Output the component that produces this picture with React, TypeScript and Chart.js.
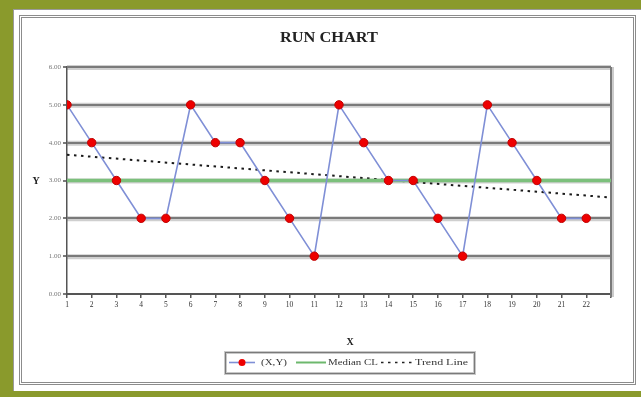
import React, { useEffect, useRef } from "react";
import { Chart, registerables } from "chart.js";
Chart.register(...registerables);

const xCategories = [1, 2, 3, 4, 5, 6, 7, 8, 9, 10, 11, 12, 13, 14, 15, 16, 17, 18, 19, 20, 21, 22];
const yValues = [5, 4, 3, 2, 2, 5, 4, 4, 3, 2, 1, 5, 4, 3, 3, 2, 1, 5, 4, 3, 2, 2];
const medianValue = 3;
const trendX = [1, 23];
const trendY = [3.68, 2.55];
const xAxisMin = 1;
const xAxisMax = 23;
const yAxisMin = 0;
const yAxisMax = 6;
const legendLabels = ["(X,Y)", "Median CL", "Trend Line"];
const titleText = "RUN CHART";
const xTitle = "X";
const yTitle = "Y";

const OX = 22;
const OY = 18;
const SERIF = "'Liberation Serif', 'Times New Roman', serif";

function drawText(
  ctx: CanvasRenderingContext2D,
  text: string,
  x: number,
  y: number,
  font: string,
  targetW: number,
  color: string,
  align: CanvasTextAlign
) {
  ctx.save();
  ctx.font = font;
  ctx.fillStyle = color;
  ctx.textBaseline = "middle";
  ctx.textAlign = align;
  const w = ctx.measureText(text).width;
  const s = targetW > 0 ? targetW / w : 1;
  ctx.translate(x, y);
  ctx.scale(s, 1);
  ctx.fillText(text, 0, 0);
  ctx.restore();
}

const decorPlugin = {
  id: "decor",
  beforeDraw(chart: any) {
    const ctx = chart.ctx as CanvasRenderingContext2D;
    const ys = chart.scales.y;
    const ca = chart.chartArea;
    ctx.save();
    ctx.strokeStyle = "#cfcfcf";
    ctx.lineWidth = 5;
    for (let v = yAxisMin + 1; v <= yAxisMax; v++) {
      const py = ys.getPixelForValue(v);
      ctx.beginPath();
      ctx.moveTo(ca.left, py + 0.5);
      ctx.lineTo(ca.right, py + 0.5);
      ctx.stroke();
    }
    ctx.restore();
  },
  beforeDatasetsDraw(chart: any) {
    const ctx = chart.ctx as CanvasRenderingContext2D;
    const ca = chart.chartArea;
    ctx.save();
    ctx.strokeStyle = "#cccccc";
    ctx.lineWidth = 4;
    ctx.beginPath();
    ctx.moveTo(ca.right + 1, ca.top);
    ctx.lineTo(ca.right + 1, ca.bottom + 3);
    ctx.stroke();
    ctx.strokeStyle = "#7a7a7a";
    ctx.lineWidth = 2;
    ctx.beginPath();
    ctx.moveTo(ca.right, ca.top);
    ctx.lineTo(ca.right, ca.bottom + 3);
    ctx.stroke();
    ctx.restore();
  },
  afterDraw(chart: any) {
    const ctx = chart.ctx as CanvasRenderingContext2D;
    // title
    drawText(ctx, titleText, 329 - OX, 38 - OY, `bold 14px ${SERIF}`, 98, "#222", "center");
    drawText(ctx, yTitle, 36 - OX, 181 - OY, `bold 10px ${SERIF}`, 0, "#222", "center");
    drawText(ctx, xTitle, 350 - OX, 342 - OY, `bold 10px ${SERIF}`, 0, "#222", "center");

    // legend box
    ctx.save();
    ctx.strokeStyle = "#c8c8c8";
    ctx.lineWidth = 3;
    ctx.strokeRect(225 - OX + 0.5, 352 - OY + 0.5, 249, 21);
    ctx.strokeStyle = "#7a7a7a";
    ctx.lineWidth = 1;
    ctx.strokeRect(225 - OX + 0.5, 352 - OY + 0.5, 249, 21);
    const ly = 362.5 - OY;
    // item 1
    ctx.strokeStyle = "#7f8fd6";
    ctx.lineWidth = 1.6;
    ctx.beginPath();
    ctx.moveTo(229 - OX, ly);
    ctx.lineTo(255 - OX, ly);
    ctx.stroke();
    ctx.fillStyle = "#ee0000";
    ctx.beginPath();
    ctx.arc(242 - OX, ly, 3.5, 0, Math.PI * 2);
    ctx.fill();
    // item 2
    ctx.strokeStyle = "#6db86d";
    ctx.lineWidth = 2;
    ctx.beginPath();
    ctx.moveTo(296 - OX, ly);
    ctx.lineTo(326 - OX, ly);
    ctx.stroke();
    // item 3
    ctx.strokeStyle = "#222";
    ctx.lineWidth = 1.6;
    ctx.setLineDash([2.5, 4.5]);
    ctx.beginPath();
    ctx.moveTo(381 - OX, ly);
    ctx.lineTo(413 - OX, ly);
    ctx.stroke();
    ctx.setLineDash([]);
    ctx.restore();
    drawText(ctx, legendLabels[0], 261 - OX, ly, `9px ${SERIF}`, 26, "#333", "left");
    drawText(ctx, legendLabels[1], 328 - OX, ly, `9px ${SERIF}`, 50, "#333", "left");
    drawText(ctx, legendLabels[2], 415 - OX, ly, `9px ${SERIF}`, 53, "#333", "left");
  },
};

export default function App() {
  const ref = useRef<HTMLCanvasElement | null>(null);
  useEffect(() => {
    if (!ref.current) return;
    const chart = new Chart(ref.current, {
      type: "line",
      data: {
        datasets: [
          {
            label: legendLabels[0],
            data: xCategories.map((x, i) => ({ x, y: yValues[i] })),
            borderColor: "#7f8fd6",
            borderWidth: 1.6,
            pointBackgroundColor: "#ee0000",
            pointBorderColor: "#c00000",
            pointBorderWidth: 1,
            pointRadius: 4.2,
            tension: 0,
          },
          {
            label: legendLabels[1],
            data: [
              { x: xAxisMin, y: medianValue },
              { x: xAxisMax, y: medianValue },
            ],
            borderColor: "#7cc07c",
            borderWidth: 3.5,
            pointRadius: 0,
          },
          {
            label: legendLabels[2],
            data: [
              { x: trendX[0], y: trendY[0] },
              { x: trendX[1], y: trendY[1] },
            ],
            borderColor: "#1a1a1a",
            borderWidth: 2,
            borderDash: [2.5, 4.5],
            pointRadius: 0,
          },
        ],
      } as any,
      options: {
        responsive: false,
        animation: false,
        layout: { padding: { left: 0, right: 22, top: 49, bottom: 0 } },
        plugins: { legend: { display: false }, tooltip: { enabled: false }, title: { display: false } },
        scales: {
          x: {
            type: "linear",
            min: xAxisMin,
            max: xAxisMax,
            afterFit: (s: any) => {
              s.height = 88;
            },
            ticks: {
              stepSize: 1,
              autoSkip: false,
              maxRotation: 0,
              padding: 3,
              color: "#333",
              font: { family: SERIF, size: 7.5 },
              callback: (v: any) => (v <= xCategories[xCategories.length - 1] ? String(v) : ""),
            },
            grid: { drawOnChartArea: false, drawTicks: true, tickLength: 4, color: "#555", lineWidth: 1.5 },
            border: { color: "#555", width: 2 },
          },
          y: {
            min: yAxisMin,
            max: yAxisMax,
            afterFit: (s: any) => {
              s.width = 45;
            },
            ticks: {
              stepSize: 1,
              padding: 2,
              color: "#777",
              font: { family: SERIF, size: 7 },
              callback: (v: any) => Number(v).toFixed(2),
            },
            grid: { color: "#7a7a7a", lineWidth: 2, drawTicks: true, tickLength: 4 },
            border: { color: "#555", width: 1.5 },
          },
        },
      } as any,
      plugins: [decorPlugin],
    });
    return () => chart.destroy();
  }, []);

  return (
    <div style={{ position: "absolute", left: 0, top: 0, width: 641, height: 397, background: "#8a9a2c", overflow: "hidden" }}>
      <div
        style={{
          position: "absolute",
          left: 13,
          top: 9,
          width: 628,
          height: 382,
          background: "#ffffff",
          borderLeft: "1px solid #9a9a9a",
          borderTop: "1px solid #9a9a9a",
          boxSizing: "border-box",
        }}
      />
      <div
        style={{
          position: "absolute",
          left: 19,
          top: 15,
          width: 617,
          height: 370,
          border: "3px double #8c8c8c",
          boxSizing: "border-box",
        }}
      />
      <canvas ref={ref} width={611} height={364} style={{ position: "absolute", left: OX, top: OY, width: 611, height: 364 }} />
    </div>
  );
}
